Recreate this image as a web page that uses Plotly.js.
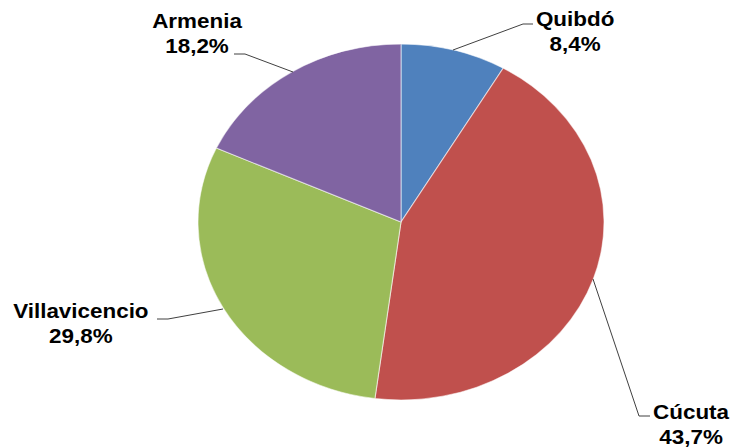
<!DOCTYPE html>
<html>
<head>
<meta charset="utf-8">
<script src="https://cdn.plot.ly/plotly-3.0.1.min.js"></script>
<style>
html,body{margin:0;padding:0;background:#fff;}
#chart{width:733px;height:447px;}
</style>
</head>
<body>
<div id="chart"></div>
<script>
// ---- data ----
const categories = ['Quibdó', 'Cúcuta', 'Villavicencio', 'Armenia'];
const values = [8.4, 43.7, 29.8, 18.2];
const sliceColors = ['#4F81BD', '#C0504D', '#9BBB59', '#8064A2'];

// ---- layout helpers (pixel -> paper) ----
const W = 733, H = 447;
const px = x => x / W;
const py = y => 1 - y / H;

// label centres and leader-line paths in pixels
const labelPos = [[575, 31.5], [691, 424.5], [81, 323], [197, 33.5]];
const leaders = [
  [[533, 24], [523, 24], [453, 50]],
  [[650, 416], [639, 416], [593, 279]],
  [[157, 319], [168, 319], [223, 309]],
  [[234, 54], [245, 54], [293, 72]]
];

const fmt = v => v.toFixed(1).replace('.', ',');

const annotations = categories.map((c, i) => ({
  x: px(labelPos[i][0]), y: py(labelPos[i][1]),
  xref: 'paper', yref: 'paper',
  xanchor: 'center', yanchor: 'middle',
  showarrow: false, align: 'center',
  text: c + '<br>' + fmt(values[i]) + '%',
  font: {family: 'Liberation Sans, Arial, sans-serif', size: 19.5, color: '#000', weight: 'bold'}
}));

const shapes = leaders.map(pts => ({
  type: 'path', xref: 'paper', yref: 'paper',
  path: pts.map((p, j) => (j ? 'L' : 'M') + px(p[0]) + ',' + py(p[1])).join(' '),
  line: {color: '#404040', width: 1}
}));

const cx = 401, cy = 222, ry = 178;
const trace = {
  type: 'pie',
  labels: categories,
  values: values,
  sort: false,
  direction: 'clockwise',
  rotation: 0,
  textinfo: 'none',
  hoverinfo: 'skip',
  marker: {colors: sliceColors, line: {color: 'rgba(255,255,255,0.55)', width: 1}},
  domain: {
    x: [px(cx) - 0.35, px(cx) + 0.35],
    y: [py(cy) - ry / H, py(cy) + ry / H]
  }
};

const layout = {
  width: W, height: H,
  margin: {l: 0, r: 0, t: 0, b: 0},
  paper_bgcolor: '#fff',
  showlegend: false,
  annotations: annotations,
  shapes: shapes
};

Plotly.newPlot('chart', [trace], layout, {displayModeBar: false, staticPlot: true}).then(gd => {
  // the reference is stretched horizontally: stretch pie and labels about their centres
  const sx = 203 / ry;
  const layer = gd.querySelector('.pielayer');
  if (layer) layer.setAttribute('transform', `translate(${cx},0) scale(${sx},1) translate(${-cx},0)`);
  gd.querySelectorAll('.annotation').forEach((a, i) => {
    const lx = labelPos[i][0];
    a.setAttribute('transform', `translate(${lx},0) scale(1.15,1) translate(${-lx},0)`);
  });
});
</script>
</body>
</html>
